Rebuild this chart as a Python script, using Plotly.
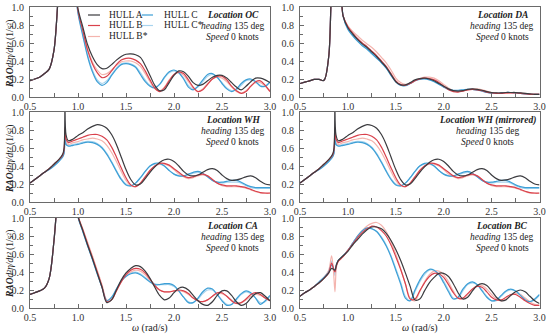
import plotly.graph_objects as go
from plotly.subplots import make_subplots

# ---------------- data ----------------
OMEGA_HI = [1.00, 1.05, 1.10, 1.15, 1.20, 1.25, 1.30, 1.35, 1.40, 1.45,
            1.50, 1.55, 1.60, 1.65, 1.70, 1.75, 1.80, 1.85, 1.90, 1.95,
            2.00, 2.05, 2.10, 2.15, 2.20, 2.25, 2.30, 2.35, 2.40, 2.45,
            2.50, 2.55, 2.60, 2.65, 2.70, 2.75, 2.80, 2.85, 2.90, 2.95,
            3.00]
OMEGA_LO_STD = [0.50, 0.55, 0.60, 0.65, 0.70, 0.75, 0.80, 0.85, 0.90, 0.95]
OMEGA_LO_WH = [0.50, 0.55, 0.60, 0.65, 0.70, 0.75, 0.80, 0.84, 0.855, 0.865, 0.875, 0.90, 0.95]
OMEGA_LO_BC = [0.50, 0.55, 0.60, 0.65, 0.70, 0.75, 0.80, 0.83, 0.85, 0.865, 0.88, 0.90, 0.95]

HULLS = ["HULL A", "HULL B", "HULL B*", "HULL C", "HULL C*"]

# Location OC
OC_LO = [0.18, 0.20, 0.22, 0.26, 0.31, 0.52, 1.20, 1.70, 1.80, 1.40]
OC_A = [0.98, 0.78, 0.58, 0.45, 0.36, 0.315, 0.32, 0.36, 0.41, 0.45,
        0.475, 0.48, 0.47, 0.44, 0.35, 0.24, 0.13, 0.07, 0.08, 0.16,
        0.24, 0.29, 0.28, 0.23, 0.16, 0.13, 0.14, 0.18, 0.22, 0.24,
        0.24, 0.21, 0.16, 0.11, 0.08, 0.12, 0.17, 0.21, 0.21, 0.19,
        0.16]
OC_B = [0.96, 0.74, 0.52, 0.37, 0.27, 0.215, 0.23, 0.29, 0.36, 0.41,
        0.43, 0.43, 0.41, 0.37, 0.29, 0.19, 0.10, 0.06, 0.10, 0.18,
        0.25, 0.28, 0.26, 0.19, 0.11, 0.06, 0.08, 0.14, 0.20, 0.23,
        0.23, 0.19, 0.12, 0.07, 0.04, 0.06, 0.12, 0.17, 0.18, 0.13,
        0.06]
OC_BS = [0.95, 0.73, 0.53, 0.39, 0.30, 0.25, 0.26, 0.30, 0.35, 0.39,
         0.40, 0.40, 0.38, 0.34, 0.26, 0.17, 0.09, 0.07, 0.11, 0.19,
         0.25, 0.27, 0.24, 0.17, 0.10, 0.06, 0.09, 0.15, 0.20, 0.22,
         0.21, 0.17, 0.11, 0.06, 0.04, 0.07, 0.12, 0.16, 0.16, 0.12,
         0.07]
OC_C = [0.93, 0.68, 0.45, 0.28, 0.17, 0.13, 0.16, 0.24, 0.31, 0.36,
        0.37, 0.36, 0.33, 0.25, 0.17, 0.12, 0.10, 0.14, 0.22, 0.28,
        0.30, 0.27, 0.20, 0.11, 0.08, 0.12, 0.19, 0.25, 0.26, 0.22,
        0.15, 0.09, 0.06, 0.09, 0.15, 0.19, 0.20, 0.17, 0.12, 0.12,
        0.17]
OC_CS = [0.94, 0.70, 0.47, 0.30, 0.19, 0.15, 0.18, 0.25, 0.32, 0.37,
         0.38, 0.37, 0.34, 0.27, 0.19, 0.13, 0.11, 0.14, 0.21, 0.27,
         0.29, 0.27, 0.21, 0.13, 0.09, 0.11, 0.17, 0.23, 0.25, 0.22,
         0.16, 0.10, 0.07, 0.08, 0.13, 0.18, 0.19, 0.17, 0.13, 0.12,
         0.16]

# Location DA
DA_LO = [0.15, 0.165, 0.18, 0.195, 0.195, 0.185, 0.45, 1.40, 1.50, 0.90]
DA_A = [0.77, 0.70, 0.64, 0.59, 0.55, 0.50, 0.45, 0.39, 0.33, 0.25,
        0.17, 0.135, 0.135, 0.16, 0.19, 0.205, 0.21, 0.20, 0.18, 0.15,
        0.12, 0.09, 0.07, 0.065, 0.07, 0.085, 0.09, 0.085, 0.075, 0.06,
        0.05, 0.045, 0.045, 0.05, 0.05, 0.05, 0.045, 0.04, 0.035, 0.03,
        0.03]
DA_B = [0.78, 0.71, 0.65, 0.60, 0.56, 0.51, 0.46, 0.40, 0.34, 0.26,
        0.18, 0.14, 0.13, 0.15, 0.18, 0.20, 0.21, 0.205, 0.19, 0.16,
        0.12, 0.08, 0.06, 0.055, 0.065, 0.08, 0.085, 0.08, 0.07, 0.055,
        0.045, 0.04, 0.04, 0.045, 0.045, 0.045, 0.04, 0.035, 0.03, 0.03,
        0.03]
DA_BS = [0.79, 0.73, 0.68, 0.63, 0.59, 0.55, 0.50, 0.44, 0.38, 0.30,
         0.21, 0.16, 0.14, 0.15, 0.18, 0.205, 0.22, 0.22, 0.21, 0.18,
         0.14, 0.10, 0.07, 0.06, 0.065, 0.08, 0.09, 0.09, 0.08, 0.065,
         0.05, 0.045, 0.04, 0.04, 0.045, 0.045, 0.045, 0.04, 0.035, 0.035,
         0.035]
DA_C = [0.75, 0.68, 0.62, 0.57, 0.53, 0.48, 0.43, 0.38, 0.32, 0.24,
        0.17, 0.13, 0.125, 0.15, 0.18, 0.195, 0.20, 0.19, 0.17, 0.14,
        0.11, 0.085, 0.075, 0.075, 0.08, 0.085, 0.085, 0.075, 0.065, 0.05,
        0.04, 0.04, 0.045, 0.05, 0.05, 0.045, 0.04, 0.035, 0.03, 0.03,
        0.03]
DA_CS = [0.76, 0.69, 0.63, 0.58, 0.54, 0.49, 0.44, 0.38, 0.32, 0.24,
         0.17, 0.13, 0.13, 0.15, 0.18, 0.20, 0.205, 0.195, 0.175, 0.145,
         0.11, 0.085, 0.07, 0.07, 0.075, 0.085, 0.085, 0.08, 0.07, 0.055,
         0.045, 0.04, 0.045, 0.05, 0.05, 0.045, 0.04, 0.035, 0.03, 0.03,
         0.03]

# Location WH (and WH mirrored)
WH_LO_A = [0.21, 0.25, 0.29, 0.33, 0.37, 0.42, 0.47, 0.53, 0.60, 1.40, 0.75, 0.68, 0.70]
WH_LO_B = [0.21, 0.25, 0.29, 0.33, 0.37, 0.42, 0.47, 0.52, 0.58, 0.83, 0.70, 0.66, 0.68]
WH_LO_BS = [0.21, 0.25, 0.29, 0.33, 0.37, 0.41, 0.46, 0.51, 0.56, 0.78, 0.66, 0.64, 0.66]
WH_LO_C = [0.21, 0.25, 0.29, 0.33, 0.36, 0.40, 0.45, 0.50, 0.54, 0.72, 0.64, 0.62, 0.63]
WH_LO_CS = [0.21, 0.25, 0.29, 0.33, 0.36, 0.41, 0.45, 0.50, 0.55, 0.74, 0.65, 0.63, 0.64]
WH_A = [0.74, 0.77, 0.81, 0.84, 0.86, 0.85, 0.82, 0.75, 0.64, 0.50,
        0.36, 0.25, 0.19, 0.20, 0.26, 0.33, 0.39, 0.44, 0.47, 0.475,
        0.45, 0.40, 0.34, 0.30, 0.29, 0.30, 0.33, 0.36, 0.37, 0.35,
        0.30, 0.26, 0.24, 0.245, 0.26, 0.28, 0.29, 0.27, 0.23, 0.20,
        0.19]
WH_B = [0.70, 0.72, 0.74, 0.75, 0.75, 0.73, 0.69, 0.61, 0.50, 0.38,
        0.27, 0.19, 0.17, 0.21, 0.28, 0.35, 0.40, 0.43, 0.43, 0.41,
        0.37, 0.33, 0.29, 0.27, 0.28, 0.30, 0.31, 0.29, 0.25, 0.21,
        0.19, 0.18, 0.18, 0.18, 0.17, 0.16, 0.14, 0.12, 0.105, 0.10,
        0.10]
WH_BS = [0.67, 0.69, 0.70, 0.71, 0.70, 0.68, 0.63, 0.55, 0.45, 0.34,
         0.24, 0.18, 0.17, 0.21, 0.28, 0.35, 0.40, 0.42, 0.42, 0.40,
         0.36, 0.31, 0.28, 0.26, 0.27, 0.29, 0.30, 0.29, 0.25, 0.21,
         0.18, 0.17, 0.17, 0.17, 0.165, 0.155, 0.135, 0.115, 0.10, 0.095,
         0.095]
WH_C = [0.64, 0.655, 0.665, 0.66, 0.64, 0.60, 0.53, 0.44, 0.34, 0.25,
        0.19, 0.18, 0.21, 0.27, 0.34, 0.40, 0.43, 0.43, 0.40, 0.35,
        0.31, 0.29, 0.29, 0.31, 0.33, 0.34, 0.32, 0.28, 0.24, 0.22,
        0.22, 0.23, 0.24, 0.24, 0.22, 0.19, 0.17, 0.16, 0.16, 0.16,
        0.16]
WH_CS = [0.65, 0.665, 0.675, 0.67, 0.65, 0.61, 0.54, 0.45, 0.35, 0.26,
         0.20, 0.18, 0.21, 0.27, 0.34, 0.40, 0.42, 0.42, 0.40, 0.35,
         0.31, 0.29, 0.29, 0.30, 0.32, 0.33, 0.31, 0.28, 0.24, 0.22,
         0.21, 0.22, 0.22, 0.22, 0.21, 0.18, 0.16, 0.15, 0.15, 0.15,
         0.15]

# Location CA
CA_LO = [0.15, 0.17, 0.19, 0.22, 0.33, 0.75, 1.40, 1.80, 1.80, 1.35]
CA_A = [1.02, 0.86, 0.70, 0.55, 0.39, 0.23, 0.06, 0.09, 0.20, 0.31,
        0.39, 0.44, 0.47, 0.46, 0.41, 0.33, 0.23, 0.14, 0.09, 0.11,
        0.17, 0.22, 0.23, 0.20, 0.14, 0.08, 0.04, 0.03, 0.07, 0.14,
        0.19, 0.19, 0.14, 0.07, 0.03, 0.05, 0.11, 0.16, 0.17, 0.13,
        0.08]
CA_B = [1.02, 0.87, 0.71, 0.56, 0.40, 0.24, 0.07, 0.09, 0.19, 0.29,
        0.37, 0.42, 0.44, 0.43, 0.39, 0.32, 0.25, 0.20, 0.18, 0.18,
        0.19, 0.20, 0.19, 0.16, 0.11, 0.08, 0.07, 0.09, 0.13, 0.17,
        0.17, 0.13, 0.08, 0.05, 0.06, 0.10, 0.15, 0.17, 0.15, 0.11,
        0.08]
CA_BS = [1.03, 0.88, 0.73, 0.58, 0.42, 0.26, 0.09, 0.10, 0.19, 0.29,
         0.36, 0.40, 0.42, 0.41, 0.37, 0.31, 0.24, 0.20, 0.18, 0.18,
         0.19, 0.19, 0.18, 0.15, 0.11, 0.08, 0.07, 0.09, 0.13, 0.16,
         0.16, 0.13, 0.09, 0.06, 0.06, 0.09, 0.13, 0.15, 0.14, 0.11,
         0.08]
CA_C = [1.01, 0.85, 0.69, 0.54, 0.38, 0.23, 0.08, 0.12, 0.21, 0.30,
        0.35, 0.38, 0.39, 0.37, 0.33, 0.29, 0.26, 0.26, 0.27, 0.27,
        0.25, 0.19, 0.12, 0.06, 0.06, 0.11, 0.18, 0.22, 0.21, 0.15,
        0.08, 0.03, 0.04, 0.10, 0.16, 0.19, 0.17, 0.11, 0.04, 0.08,
        0.14]
CA_CS = [1.01, 0.85, 0.69, 0.54, 0.38, 0.23, 0.08, 0.11, 0.21, 0.30,
         0.36, 0.39, 0.40, 0.38, 0.34, 0.30, 0.27, 0.26, 0.26, 0.26,
         0.24, 0.19, 0.12, 0.07, 0.06, 0.10, 0.16, 0.20, 0.20, 0.15,
         0.09, 0.04, 0.04, 0.09, 0.15, 0.18, 0.16, 0.11, 0.06, 0.07,
         0.13]

# Location BC
BC_LO_A = [0.13, 0.17, 0.20, 0.24, 0.28, 0.33, 0.39, 0.44, 0.43, 0.42, 0.48, 0.53, 0.58]
BC_LO_B = [0.13, 0.17, 0.20, 0.24, 0.28, 0.33, 0.39, 0.50, 0.44, 0.40, 0.47, 0.52, 0.57]
BC_LO_BS = [0.13, 0.17, 0.20, 0.24, 0.28, 0.34, 0.42, 0.58, 0.40, 0.18, 0.45, 0.52, 0.58]
BC_LO_C = [0.13, 0.17, 0.20, 0.24, 0.29, 0.34, 0.40, 0.48, 0.44, 0.41, 0.48, 0.53, 0.58]
BC_LO_CS = [0.13, 0.17, 0.20, 0.24, 0.29, 0.34, 0.41, 0.52, 0.44, 0.36, 0.47, 0.53, 0.58]
BC_A = [0.63, 0.70, 0.76, 0.82, 0.87, 0.90, 0.90, 0.88, 0.83, 0.75,
        0.65, 0.53, 0.39, 0.24, 0.09, 0.10, 0.19, 0.28, 0.34, 0.385,
        0.385, 0.35, 0.27, 0.17, 0.10, 0.12, 0.19, 0.25, 0.27, 0.25,
        0.19, 0.12, 0.08, 0.09, 0.14, 0.18, 0.20, 0.18, 0.13, 0.08,
        0.05]
BC_B = [0.64, 0.71, 0.78, 0.84, 0.88, 0.91, 0.90, 0.86, 0.80, 0.70,
        0.57, 0.43, 0.27, 0.10, 0.10, 0.19, 0.28, 0.35, 0.385, 0.38,
        0.34, 0.26, 0.17, 0.11, 0.11, 0.16, 0.21, 0.24, 0.23, 0.18,
        0.12, 0.09, 0.09, 0.12, 0.15, 0.15, 0.12, 0.08, 0.05, 0.03,
        0.03]
BC_BS = [0.64, 0.72, 0.80, 0.86, 0.91, 0.94, 0.95, 0.92, 0.85, 0.74,
         0.60, 0.44, 0.27, 0.11, 0.08, 0.18, 0.29, 0.37, 0.41, 0.41,
         0.37, 0.29, 0.19, 0.11, 0.10, 0.15, 0.21, 0.25, 0.25, 0.21,
         0.15, 0.10, 0.08, 0.10, 0.14, 0.16, 0.15, 0.11, 0.07, 0.04,
         0.03]
BC_C = [0.64, 0.72, 0.80, 0.86, 0.89, 0.88, 0.85, 0.78, 0.69, 0.57,
        0.42, 0.27, 0.11, 0.08, 0.20, 0.31, 0.39, 0.43, 0.42, 0.37,
        0.28, 0.18, 0.10, 0.12, 0.21, 0.27, 0.29, 0.26, 0.19, 0.12,
        0.08, 0.09, 0.14, 0.19, 0.21, 0.19, 0.14, 0.09, 0.07, 0.10,
        0.15]
BC_CS = [0.64, 0.72, 0.79, 0.85, 0.88, 0.88, 0.85, 0.79, 0.70, 0.58,
         0.44, 0.29, 0.13, 0.08, 0.18, 0.29, 0.37, 0.42, 0.42, 0.38,
         0.30, 0.20, 0.11, 0.11, 0.19, 0.26, 0.28, 0.26, 0.20, 0.13,
         0.08, 0.08, 0.13, 0.18, 0.20, 0.19, 0.15, 0.10, 0.07, 0.09,
         0.14]

X_TICKS = [0.5, 1.0, 1.5, 2.0, 2.5, 3.0]
Y_TICKS = [0.0, 0.2, 0.4, 0.6, 0.8, 1.0]

# ---------------- assemble panels ----------------
PANELS = [
    ("Location OC", OMEGA_LO_STD, {"HULL A": OC_LO + OC_A, "HULL B": OC_LO + OC_B, "HULL B*": OC_LO + OC_BS,
                                   "HULL C": OC_LO + OC_C, "HULL C*": OC_LO + OC_CS}),
    ("Location DA", OMEGA_LO_STD, {"HULL A": DA_LO + DA_A, "HULL B": DA_LO + DA_B, "HULL B*": DA_LO + DA_BS,
                                   "HULL C": DA_LO + DA_C, "HULL C*": DA_LO + DA_CS}),
    ("Location WH", OMEGA_LO_WH, {"HULL A": WH_LO_A + WH_A, "HULL B": WH_LO_B + WH_B, "HULL B*": WH_LO_BS + WH_BS,
                                  "HULL C": WH_LO_C + WH_C, "HULL C*": WH_LO_CS + WH_CS}),
    ("Location WH (mirrored)", OMEGA_LO_WH, {"HULL A": WH_LO_A + WH_A, "HULL B": WH_LO_B + WH_B,
                                             "HULL B*": WH_LO_BS + WH_BS, "HULL C": WH_LO_C + WH_C,
                                             "HULL C*": WH_LO_CS + WH_CS}),
    ("Location CA", OMEGA_LO_STD, {"HULL A": CA_LO + CA_A, "HULL B": CA_LO + CA_B, "HULL B*": CA_LO + CA_BS,
                                   "HULL C": CA_LO + CA_C, "HULL C*": CA_LO + CA_CS}),
    ("Location BC", OMEGA_LO_BC, {"HULL A": BC_LO_A + BC_A, "HULL B": BC_LO_B + BC_B, "HULL B*": BC_LO_BS + BC_BS,
                                  "HULL C": BC_LO_C + BC_C, "HULL C*": BC_LO_CS + BC_CS}),
]

COLORS = {"HULL A": "#3b3b3f", "HULL B": "#d9414c", "HULL B*": "#f4b4ae",
          "HULL C": "#3d9fd6", "HULL C*": "#a9d4ee"}
DRAW_ORDER = ["HULL C*", "HULL B*", "HULL C", "HULL B", "HULL A"]

FONT = "Liberation Serif, Times New Roman, serif"
W, H = 550, 335
# plot boxes in pixels (left, right, top, bottom)
COLS_PX = [(30, 270), (300, 539.5)]
ROWS_PX = [(7, 97), (112, 202), (218, 308)]

fig = make_subplots(rows=3, cols=2)

for i, (title, omega_lo, series) in enumerate(PANELS):
    r, c = i // 2 + 1, i % 2 + 1
    omega = omega_lo + OMEGA_HI
    for h in DRAW_ORDER:
        fig.add_trace(go.Scatter(x=omega, y=series[h], mode="lines", name=h,
                                 line=dict(color=COLORS[h], width=1.2, shape="spline", smoothing=0.9),
                                 showlegend=False), row=r, col=c)

axis_common = dict(showline=True, mirror=True, linecolor="#6a6a6a", linewidth=1, automargin=False,
                   ticks="inside", tickcolor="#6a6a6a", ticklen=4, showgrid=False, zeroline=False,
                   tickfont=dict(family=FONT, size=10, color="#333"))

for i in range(6):
    r, c = i // 2, i % 2
    l, rr = COLS_PX[c]
    t, b = ROWS_PX[r]
    sx = "" if i == 0 else str(i + 1)
    fig.layout["xaxis" + sx].update(
        domain=[l / W, rr / W], range=[0.5, 3.0], tickvals=X_TICKS,
        ticktext=["%.1f" % v for v in X_TICKS],
        minor=dict(dtick=0.25, tick0=0.5, ticks="inside", ticklen=4, tickcolor="#6a6a6a", showgrid=False),
        **axis_common)
    fig.layout["yaxis" + sx].update(
        domain=[1 - b / H, 1 - t / H], range=[0, 1.0], tickvals=Y_TICKS,
        ticktext=["%.1f" % v for v in Y_TICKS],
        minor=dict(dtick=0.1, tick0=0, ticks="inside", ticklen=3, tickcolor="#6a6a6a", showgrid=False),
        ticklabelstandoff=3,
        **axis_common)

annotations = []
TXT = dict(family=FONT, size=9.5, color="#222")
for i, (title, _, _) in enumerate(PANELS):
    sx = "" if i == 0 else str(i + 1)
    cx = 0.783 if "mirrored" in title else 0.844
    lines = ["<b><i>%s</i></b>" % title, "<i>heading</i> 135 deg", "<i>Speed</i> 0 knots"]
    for k, (txt, fy) in enumerate(zip(lines, [0.911, 0.789, 0.667])):
        annotations.append(dict(text=txt, xref="x%s domain" % sx, yref="y%s domain" % sx,
                                x=cx, y=fy, xanchor="center", yanchor="middle",
                                showarrow=False, font=TXT))

# y-axis titles
YT = "<b><i>RAO</i></b><i>d²η/dt²</i> (1/s²)"
for yc in [54, 159, 264]:
    annotations.append(dict(text=YT, xref="paper", yref="paper", x=10 / W, y=1 - yc / H,
                            xanchor="center", yanchor="middle", textangle=-90, showarrow=False,
                            font=dict(family=FONT, size=9.5, color="#222")))
# x-axis titles
for xc in [150, 420]:
    annotations.append(dict(text="<i>ω</i> (rad/s)", xref="paper", yref="paper", x=xc / W, y=1 - 328 / H,
                            xanchor="center", yanchor="middle", showarrow=False,
                            font=dict(family=FONT, size=10, color="#222")))

# legend (two columns) drawn inside the first panel
LEG_POS = {"HULL A": (88, 100, 107, 15), "HULL B": (88, 100, 107, 25.5), "HULL B*": (88, 100, 107, 36.5),
           "HULL C": (142, 153, 162, 15), "HULL C*": (142, 153, 162, 25.5)}
shapes = []
for h in HULLS:
    x0, x1, xt, yy = LEG_POS[h]
    shapes.append(dict(type="line", xref="paper", yref="paper", x0=x0 / W, x1=x1 / W,
                       y0=1 - yy / H, y1=1 - yy / H, line=dict(color=COLORS[h], width=1.2)))
    annotations.append(dict(text=h, xref="paper", yref="paper", x=xt / W, y=1 - yy / H,
                            xanchor="left", yanchor="middle", showarrow=False,
                            font=dict(family=FONT, size=9.5, color="#222")))

fig.update_layout(width=W, height=H, margin=dict(l=0, r=0, t=0, b=0, autoexpand=False),
                  paper_bgcolor="white", plot_bgcolor="white", showlegend=False,
                  annotations=annotations, shapes=shapes, font=dict(family=FONT))

fig.write_html("out.html", config={"displayModeBar": False})

# remove the browser's default page margin so the figure sits at the window's origin
with open("out.html", "r", encoding="utf-8") as f:
    page = f.read()
page = page.replace("<body>", '<body style="margin:0;padding:0;overflow:hidden">', 1)
with open("out.html", "w", encoding="utf-8") as f:
    f.write(page)
